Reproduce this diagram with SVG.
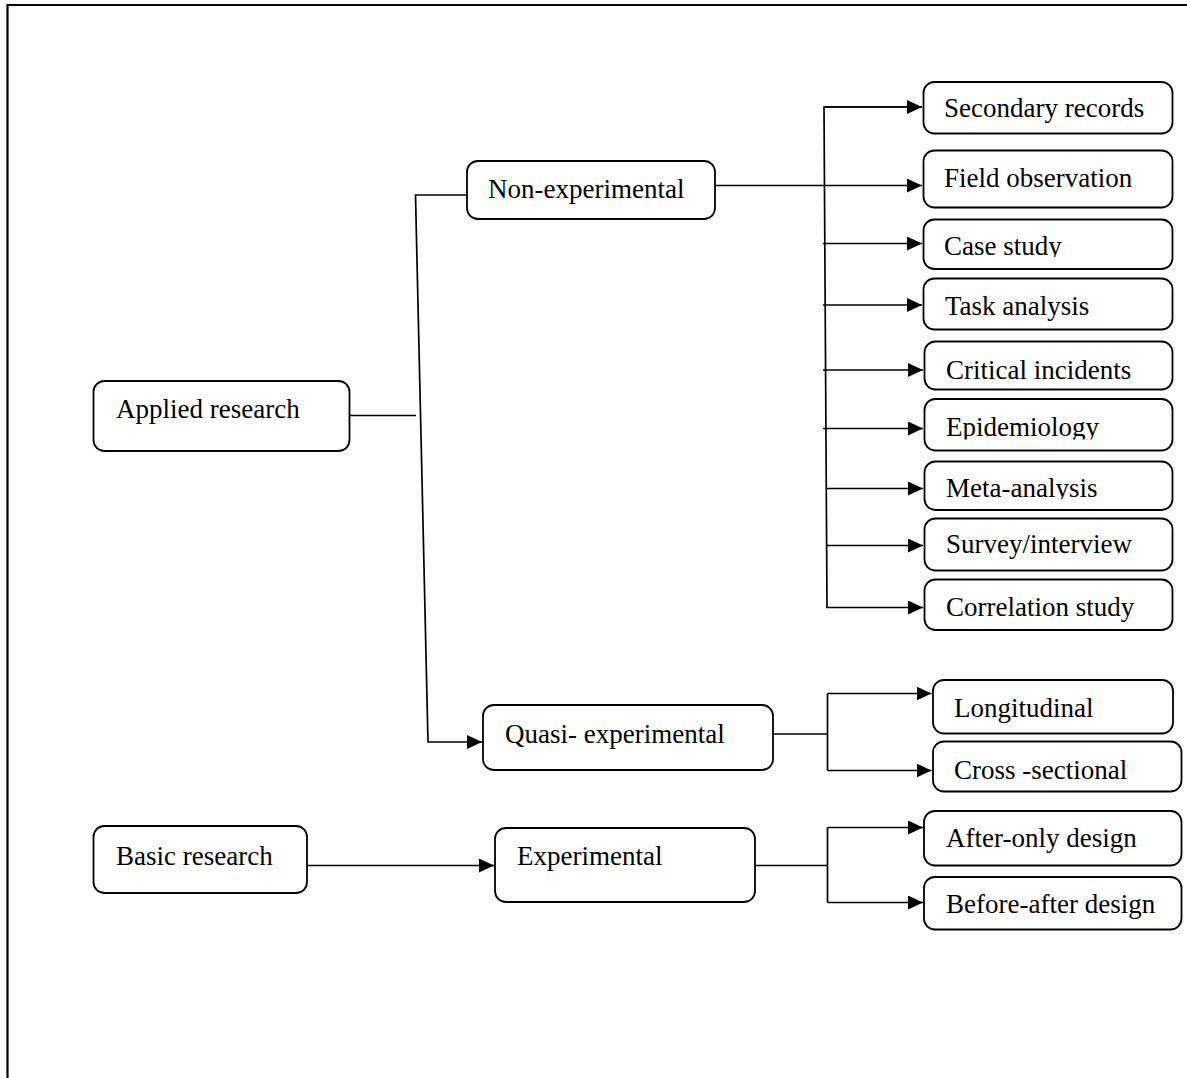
<svg xmlns="http://www.w3.org/2000/svg" width="1187" height="1078" viewBox="0 0 1187 1078">
<style>
.box{fill:#fff;stroke:#000;stroke-width:1.8}
.t{font-family:"Liberation Serif","Times New Roman",serif;font-size:27px;fill:#000}
.c{fill:none;stroke:#000;stroke-width:1.7}
</style>
<defs>
<marker id="ah" markerUnits="userSpaceOnUse" markerWidth="17" markerHeight="16" refX="15" refY="7" orient="auto">
<path d="M0,0 L15,7 L0,14 Z" fill="#000"/>
</marker>
<clipPath id="clipCase"><rect x="923" y="219" width="249" height="38"/></clipPath>
<clipPath id="clipEpi"><rect x="924" y="399" width="248" height="40.5"/></clipPath>
<clipPath id="clipMeta"><rect x="924" y="461" width="248" height="38"/></clipPath>
</defs>
<rect width="1187" height="1078" fill="#fff"/>
<g id="frame"><path d="M7.5,1078 V5 H1187" fill="none" stroke="#000" stroke-width="2.2"/></g>

<g id="connectors">
<path class="c" d="M350,415.5 H416"/>
<path class="c" d="M466,195 H415.5 L428,742 H482" marker-end="url(#ah)"/>
<path class="c" d="M307,865.5 H494" marker-end="url(#ah)"/>
<path class="c" d="M715,185.5 H922" marker-end="url(#ah)"/>
<path class="c" d="M922,107 H824 L827,607.5 H923" marker-end="url(#ah)"/>
<path class="c" d="M824,107 H922" marker-end="url(#ah)"/>
<path class="c" d="M823,243.5 H922" marker-end="url(#ah)"/>
<path class="c" d="M823,305 H922" marker-end="url(#ah)"/>
<path class="c" d="M823,370 H923" marker-end="url(#ah)"/>
<path class="c" d="M823,428.5 H923" marker-end="url(#ah)"/>
<path class="c" d="M826,488.5 H923" marker-end="url(#ah)"/>
<path class="c" d="M826,545.5 H923" marker-end="url(#ah)"/>
<path class="c" d="M773,734 H827.5 M827.5,693.5 V770.5"/>
<path class="c" d="M827.5,693.5 H931.5" marker-end="url(#ah)"/>
<path class="c" d="M827.5,770.5 H931.5" marker-end="url(#ah)"/>
<path class="c" d="M755,865.5 H827.5 M827.5,827.5 V902.5"/>
<path class="c" d="M827.5,827.5 H923" marker-end="url(#ah)"/>
<path class="c" d="M827.5,902.5 H923" marker-end="url(#ah)"/>
</g>

<g id="applied"><rect class="box" x="93.5" y="381" width="256" height="70" rx="11"/><text class="t" x="116" y="418">Applied research</text></g>
<g id="basic"><rect class="box" x="93.5" y="826" width="213.5" height="67" rx="11"/><text class="t" x="116" y="865">Basic research</text></g>
<g id="nonexp"><rect class="box" x="467" y="161" width="248" height="58" rx="11"/><text class="t" x="488" y="198">Non-experimental</text></g>
<g id="quasi"><rect class="box" x="483" y="705" width="290" height="65" rx="11"/><text class="t" x="505" y="743">Quasi- experimental</text></g>
<g id="exp"><rect class="box" x="495" y="828" width="260" height="74" rx="11"/><text class="t" x="517" y="865">Experimental</text></g>

<g id="secondary"><rect class="box" x="923.5" y="82" width="249" height="51.5" rx="11"/><text class="t" x="944" y="117">Secondary records</text></g>
<g id="field"><rect class="box" x="923.5" y="150.5" width="249" height="57" rx="11"/><text class="t" x="944" y="187">Field observation</text></g>
<g id="case"><rect class="box" x="923.5" y="219.5" width="249" height="49.5" rx="11"/><text class="t" x="944" y="255" clip-path="url(#clipCase)">Case study</text></g>
<g id="task"><rect class="box" x="923.5" y="278.5" width="249" height="51" rx="11"/><text class="t" x="945" y="315">Task analysis</text></g>
<g id="critical"><rect class="box" x="924.5" y="341.5" width="248" height="48" rx="11"/><text class="t" x="946" y="379">Critical incidents</text></g>
<g id="epi"><rect class="box" x="924.5" y="399" width="248" height="51.5" rx="11"/><text class="t" x="946" y="436" clip-path="url(#clipEpi)">Epidemiology</text></g>
<g id="meta"><rect class="box" x="924.5" y="461.5" width="248" height="48.5" rx="11"/><text class="t" x="946" y="497" clip-path="url(#clipMeta)">Meta-analysis</text></g>
<g id="survey"><rect class="box" x="924.5" y="518.5" width="248" height="52" rx="11"/><text class="t" x="946" y="553">Survey/interview</text></g>
<g id="corr"><rect class="box" x="924.5" y="579.5" width="248" height="50.5" rx="11"/><text class="t" x="946" y="616">Correlation study</text></g>

<g id="longi"><rect class="box" x="933" y="680" width="240" height="53.5" rx="11"/><text class="t" x="954" y="717">Longitudinal</text></g>
<g id="cross"><rect class="box" x="933" y="741.5" width="248.5" height="50" rx="11"/><text class="t" x="954" y="779">Cross -sectional</text></g>
<g id="after"><rect class="box" x="924" y="811" width="257.5" height="54.5" rx="11"/><text class="t" x="946" y="847">After-only design</text></g>
<g id="before"><rect class="box" x="924" y="877" width="257.5" height="52.5" rx="11"/><text class="t" x="946" y="913">Before-after design</text></g>
</svg>
